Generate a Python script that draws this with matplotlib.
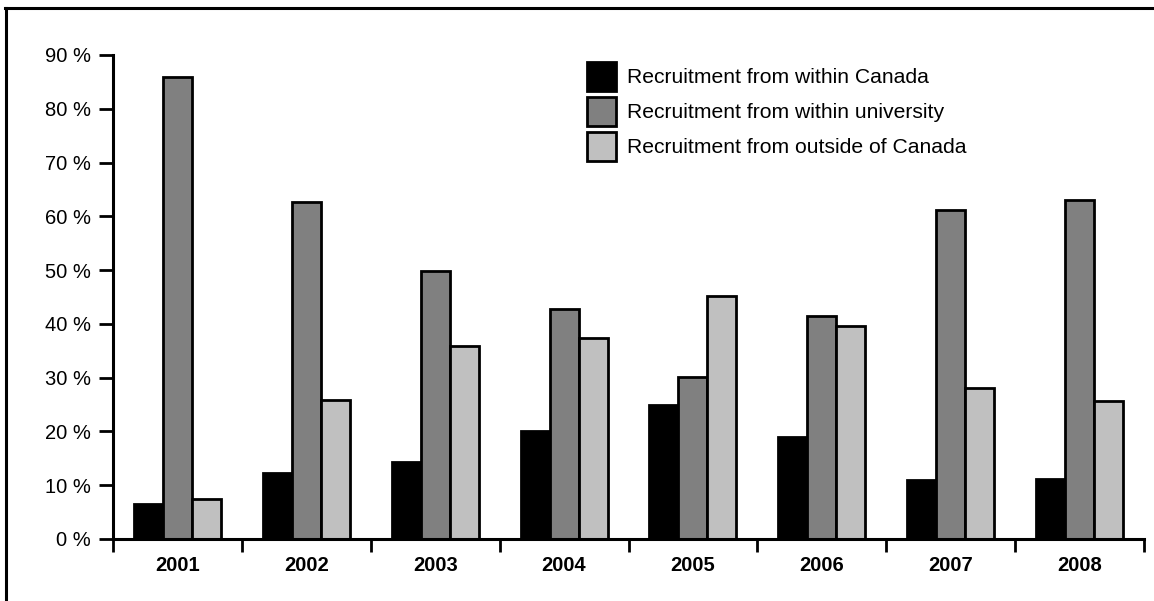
import matplotlib
matplotlib.use("Agg")
import matplotlib.pyplot as plt
from matplotlib.lines import Line2D
from matplotlib.patches import Patch
import numpy as np

years = ["2001", "2002", "2003", "2004", "2005", "2006", "2007", "2008"]
series_names = ["Recruitment from within Canada",
                "Recruitment from within university",
                "Recruitment from outside of Canada"]
within_canada = [6.5, 12.3, 14.3, 20.1, 24.9, 19.0, 10.9, 11.2]
within_university = [85.9, 62.6, 49.8, 42.8, 30.1, 41.4, 61.1, 63.1]
outside_canada = [7.4, 25.8, 35.9, 37.4, 45.2, 39.7, 28.0, 25.7]
colors = ["#000000", "#808080", "#c0c0c0"]
yticks = [0, 10, 20, 30, 40, 50, 60, 70, 80, 90]
ytick_labels = [f"{v} %" for v in yticks]

plt.rcParams['font.family'] = ['Liberation Sans', 'DejaVu Sans']

W, H = 1154, 601
fig = plt.figure(figsize=(W / 100, H / 100), dpi=100)
ax = fig.add_axes([113 / W, 1 - 539 / H, (1144 - 113) / W, (539 - 55) / H])

x = np.arange(len(years))
bw = 0.225
for i, (vals, c, name) in enumerate(zip([within_canada, within_university, outside_canada], colors, series_names)):
    ax.bar(x + (i - 1) * bw, vals, width=bw, color=c, edgecolor="black", linewidth=2.0, label=name, zorder=3)

ax.set_xlim(-0.5, len(years) - 0.5)
ax.set_ylim(0, 90)
ax.set_yticks(yticks)
ax.set_yticklabels(ytick_labels, fontsize=14.5)
ax.tick_params(axis='y', direction='out', length=10, width=2, pad=6, colors='black')

ax.set_xticks(np.arange(-0.5, len(years)), minor=False)
ax.set_xticklabels([])
ax.tick_params(axis='x', which='major', direction='out', length=9, width=2)
ax.set_xticks(x, minor=True)
ax.set_xticklabels(years, minor=True, fontsize=14.5, fontweight='bold')
ax.tick_params(axis='x', which='minor', length=0, pad=12.5)

for s in ['top', 'right']:
    ax.spines[s].set_visible(False)
for s in ['left', 'bottom']:
    ax.spines[s].set_linewidth(2.2)
    ax.spines[s].set_zorder(4)

handles = [Patch(facecolor=c, edgecolor='black', linewidth=2.0) for c in colors]
fs_leg = 15.2
fpx = fs_leg * 100 / 72
patch_px = 29
hh = (patch_px / fpx - 0.245) / 0.65
leg = fig.legend(handles, series_names, loc='upper left',
                 bbox_to_anchor=(587 / W, 1 - 62 / H), frameon=False,
                 fontsize=fs_leg, handlelength=patch_px / fpx, handleheight=hh,
                 labelspacing=6 / fpx, handletextpad=11 / fpx, borderpad=0, borderaxespad=0)

# figure border (top and left)
fig.add_artist(Line2D([5 / W, 1], [1 - 7.5 / H, 1 - 7.5 / H], transform=fig.transFigure, color='black', linewidth=2.2))
fig.add_artist(Line2D([6 / W, 6 / W], [0, 1 - 7.5 / H], transform=fig.transFigure, color='black', linewidth=2.2))

fig.savefig("out.png", dpi=100)
